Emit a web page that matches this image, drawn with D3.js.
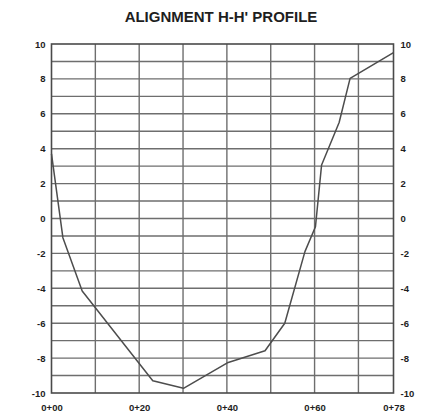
<!DOCTYPE html>
<html>
<head>
<meta charset="utf-8">
<script src="https://cdn.jsdelivr.net/npm/d3@7"></script>
<style>
  html, body { margin: 0; padding: 0; background: #fff; }
  svg { display: block; }
  text { font-family: "Liberation Sans", Arial, sans-serif; font-weight: bold; fill: #1e1e1e; }
</style>
</head>
<body>
<svg id="chart" width="426" height="413"></svg>
<script>
// Ground profile along alignment H-H' (station in feet, elevation relative)
const stations   = [0, 2.6, 7.0, 23.1, 30.1, 40.3, 48.7, 53.2, 57.8, 60.2, 61.6, 65.6, 68.1, 78];
const elevations = [3.7, -1.1, -4.15, -9.3, -9.73, -8.25, -7.58, -6.0, -1.9, -0.47, 3.07, 5.5, 8.03, 9.5];

const xTickValues = [0, 20, 40, 60, 78];
const xTickLabels = ["0+00", "0+20", "0+40", "0+60", "0+78"];
const xGridValues = [10, 20, 30, 40, 50, 60, 70];
const yTickValues = [-10, -8, -6, -4, -2, 0, 2, 4, 6, 8, 10];
const yGridValues = d3.range(-9, 10, 1);

const svg = d3.select("#chart");
const plotLeft = 51.5, plotRight = 393.5, plotTop = 44, plotBottom = 393;

const x = d3.scaleLinear().domain([0, 78]).range([plotLeft, plotRight]);
const y = d3.scaleLinear().domain([-10, 10]).range([plotBottom, plotTop]);

// Title
svg.append("text")
  .attr("x", 221).attr("y", 21.5)
  .attr("text-anchor", "middle")
  .style("font-size", "15px")
  .text("ALIGNMENT H-H' PROFILE");

// Grid
const grid = svg.append("g").attr("stroke", "#6e6e6e").attr("stroke-width", 1.4).attr("fill", "none");
grid.selectAll("line.v").data(xGridValues).join("line")
  .attr("class", "v")
  .attr("x1", d => x(d)).attr("x2", d => x(d))
  .attr("y1", plotTop).attr("y2", plotBottom);
grid.selectAll("line.h").data(yGridValues).join("line")
  .attr("class", "h")
  .attr("x1", plotLeft).attr("x2", plotRight)
  .attr("y1", d => y(d)).attr("y2", d => y(d));

// Frame
svg.append("rect")
  .attr("x", plotLeft).attr("y", plotTop)
  .attr("width", plotRight - plotLeft).attr("height", plotBottom - plotTop)
  .attr("fill", "none").attr("stroke", "#4a4a4a").attr("stroke-width", 1.6);

// Axes (labels only, no tick marks); plain hyphen for negatives
const yFormat = d => String(d);
const axisL = d3.axisLeft(y).tickValues(yTickValues).tickFormat(yFormat).tickSize(0).tickPadding(6);
const axisR = d3.axisRight(y).tickValues(yTickValues).tickFormat(yFormat).tickSize(0).tickPadding(7);
const axisB = d3.axisBottom(x).tickValues(xTickValues)
  .tickFormat((d, i) => xTickLabels[i]).tickSize(0).tickPadding(11.5);

function styleAxis(g) {
  g.select(".domain").remove();
  g.selectAll("text").style("font-size", "9.5px").attr("fill", "#1e1e1e");
}
svg.append("g").attr("transform", `translate(${plotLeft},0)`).call(axisL).call(styleAxis);
svg.append("g").attr("transform", `translate(${plotRight},0)`).call(axisR).call(styleAxis);
svg.append("g").attr("transform", `translate(0,${plotBottom})`).call(axisB).call(styleAxis);

// Profile line
const line = d3.line().x(d => x(d[0])).y(d => y(d[1]));
svg.append("path")
  .datum(stations.map((s, i) => [s, elevations[i]]))
  .attr("d", line)
  .attr("fill", "none")
  .attr("stroke", "#4d4d4d")
  .attr("stroke-width", 1.5)
  .attr("stroke-linejoin", "round");
</script>
</body>
</html>
